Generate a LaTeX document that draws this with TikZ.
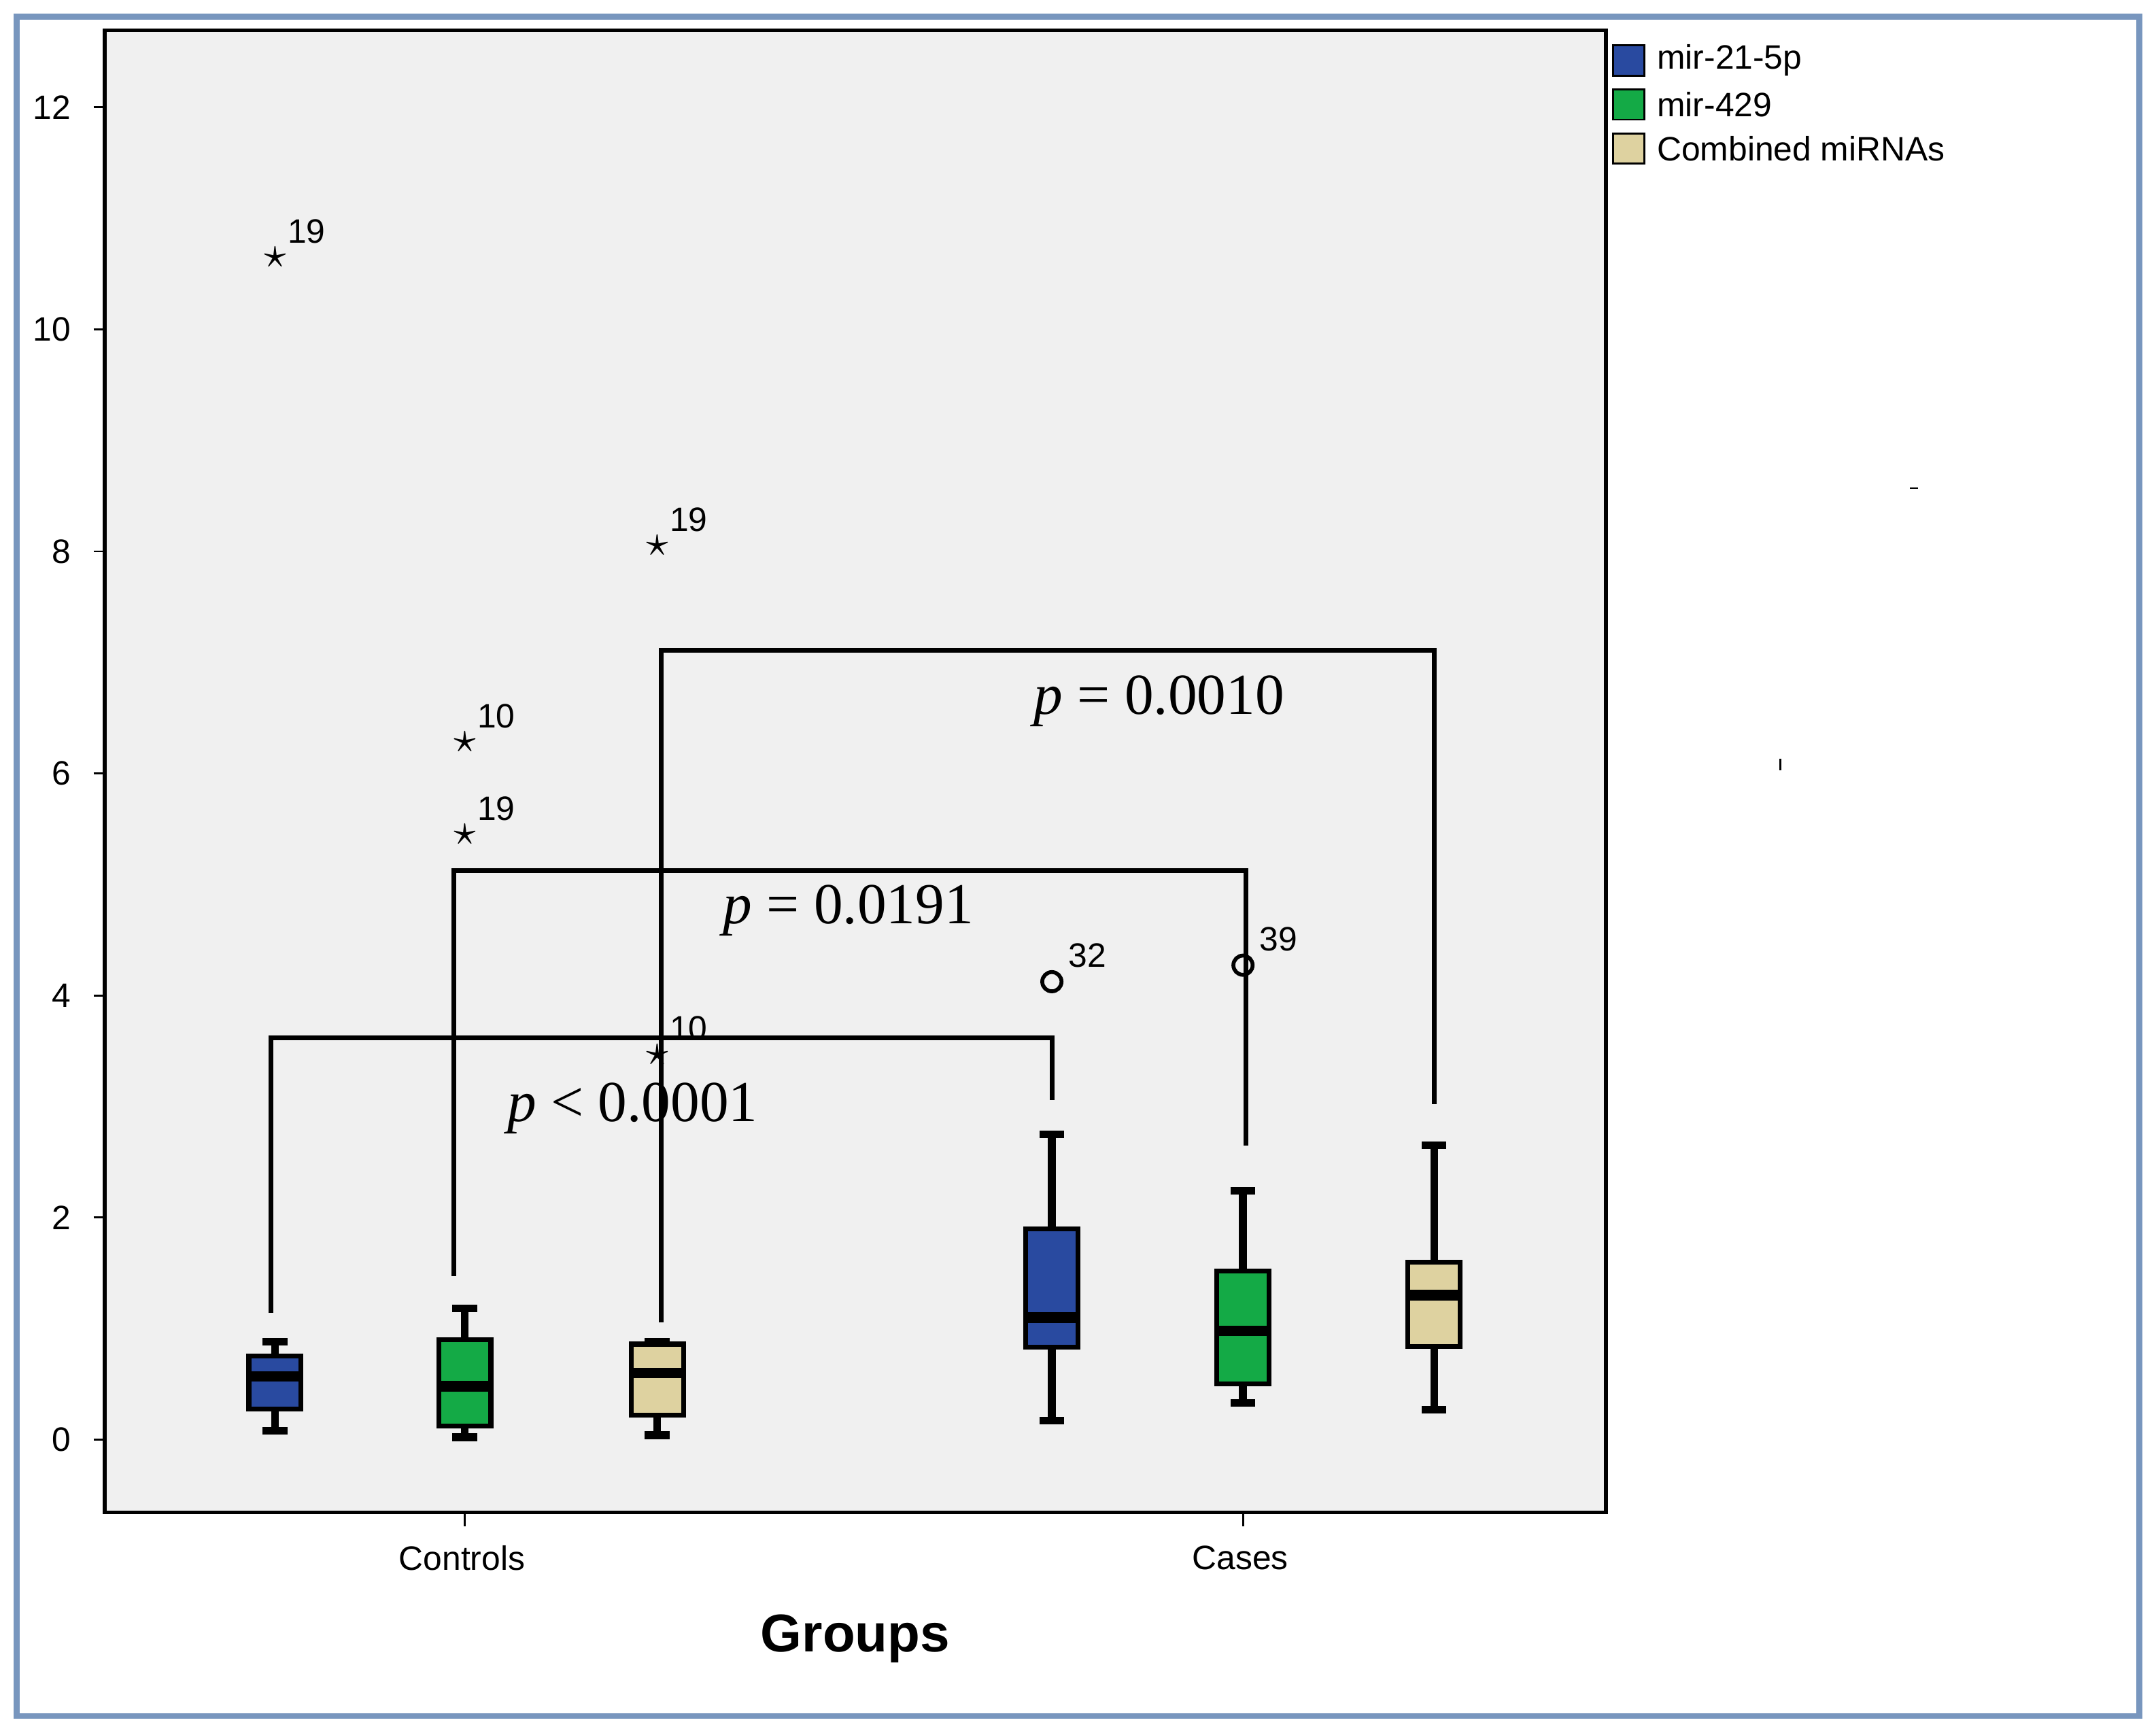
\documentclass[tikz,border=0pt]{standalone}
\usepackage{fontspec}
\setmainfont{Liberation Sans}
\newfontfamily\pfont{Liberation Serif}
\definecolor{bblue}{RGB}{41,74,160}
\definecolor{bgreen}{RGB}{20,170,70}
\definecolor{btan}{RGB}{222,210,160}
\definecolor{frame}{RGB}{120,150,190}
\definecolor{plotbg}{RGB}{240,240,240}
\newcommand\mybox[7]{%
 \draw[line width=1.6pt] (#1,#2)--(#1,#6);
 \draw[line width=1.6pt] (#1-9,#2)--(#1+9,#2) (#1-9,#6)--(#1+9,#6);
 \draw[fill=#7,line width=1pt] (#1-19,#3) rectangle (#1+19,#5);
 \draw[line width=2.2pt] (#1-19,#4)--(#1+19,#4);}
\tikzset{tick/.style={font=\fontsize{7}{8}\selectfont},
 num/.style={font=\fontsize{7}{8}\selectfont,anchor=south west,inner sep=1pt},
 pl/.style={font=\pfont\fontsize{12}{14}\selectfont}}
\begin{document}
\begin{tikzpicture}[x=0.01cm,y=-0.01cm]
\useasboundingbox (0,0) rectangle (1568,1260);
\fill[white] (0,0) rectangle (1568,1260);
\draw[frame,line width=1.2pt] (12,12) rectangle (1556,1248);
\draw[fill=plotbg,line width=0.8pt] (76,22) rectangle (1168,1100);
% y ticks
\foreach \v in {0,2,...,12}{
 \draw (68,{1047-80.75*\v})--(76,{1047-80.75*\v});
 \node[tick,anchor=east] at (64,{1047-80.75*\v}) {\v};}
% x ticks
\draw (338,1100)--(338,1110) (904,1100)--(904,1110);
\node[tick] at (336,1133) {Controls};
\node[tick] at (902,1133) {Cases};
\node[font=\bfseries\fontsize{11}{13}\selectfont] at (622,1192) {Groups};
% legend
\foreach \c/\t/\yy in {bblue/mir-21-5p/44,bgreen/mir-429/76,btan/Combined miRNAs/108}{
 \draw[fill=\c] (1173,\yy-11) rectangle (1196,\yy+11);
 \node[tick,anchor=west,inner sep=1pt] at (1201,\yy) {\t};}
% boxes
\mybox{200}{1040.5}{1025}{1001}{986.4}{976}{bblue}
\mybox{338}{1045.4}{1037.3}{1008.2}{974.3}{951.7}{bgreen}
\mybox{478}{1043.8}{1029.2}{998.6}{977.6}{976}{btan}
\mybox{765}{1033.3}{980}{958.2}{893.6}{825}{bblue}
\mybox{904}{1020.4}{1006.6}{967.9}{924.3}{866.1}{bgreen}
\mybox{1043}{1025.2}{979.2}{942}{917.8}{833}{btan}
% outliers
\foreach \x/\y/\l in {200/187/19,478/397/19,338/540/10,338/607/19,478/767/10}{
 \node[font=\fontsize{9}{9}\selectfont,inner sep=0pt] at (\x,\y) {$\star$};
 \node[num] at (\x+5,\y-6) {\l};}
\foreach \x/\y/\l in {765/714/32,904/702/39}{
 \draw[line width=0.8pt] (\x,\y) circle (7);
 \node[num] at (\x+8,\y-6) {\l};}
% brackets
\draw[line width=1pt] (197,955)--(197,755)--(765,755)--(765,800);
\draw[line width=1pt] (330,928)--(330,633)--(906,633)--(906,833);
\draw[line width=1pt] (481,962)--(481,473)--(1043,473)--(1043,803);
\node[pl,fill=plotbg,inner sep=1pt] at (843,510) {\textit{p} = 0.0010};
\node[pl] at (617,662) {\textit{p} = 0.0191};
\node[pl] at (460,806) {\textit{p} < 0.0001};
% stray marks
\draw (1389,355)--(1395,355);
\draw (1295,552)--(1295,560);
\end{tikzpicture}
\end{document}
